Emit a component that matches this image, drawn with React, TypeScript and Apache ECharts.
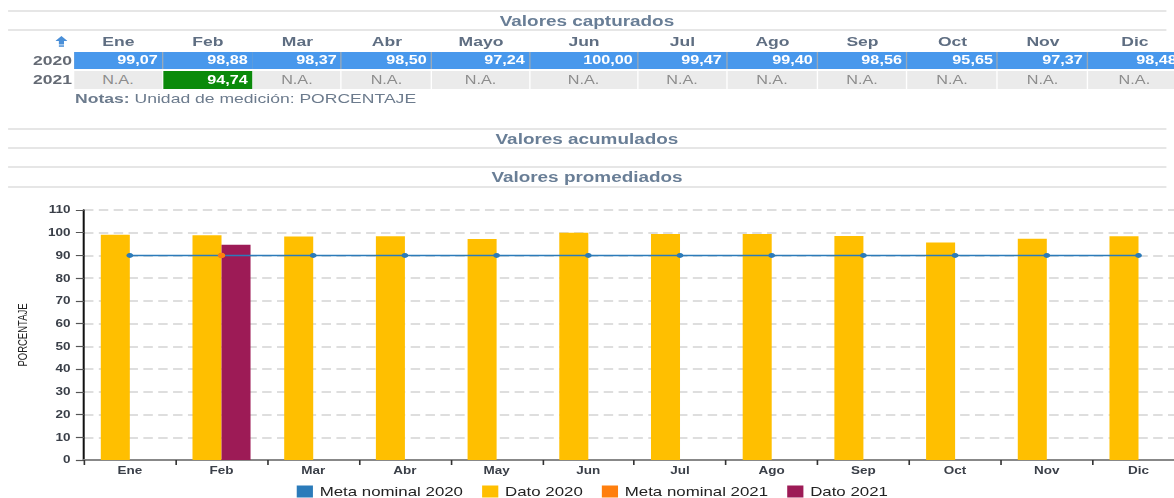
import React, { useEffect, useRef } from "react";
import * as echarts from "echarts";

// ---------- data ----------
const chartMonths = ["Ene", "Feb", "Mar", "Abr", "May", "Jun", "Jul", "Ago", "Sep", "Oct", "Nov", "Dic"];
const tableMonths = ["Ene", "Feb", "Mar", "Abr", "Mayo", "Jun", "Jul", "Ago", "Sep", "Oct", "Nov", "Dic"];
const dato2020 = [99.07, 98.88, 98.37, 98.5, 97.24, 100.0, 99.47, 99.4, 98.56, 95.65, 97.37, 98.48];
const dato2021: (number | null)[] = [null, 94.74, null, null, null, null, null, null, null, null, null, null];
const meta2020 = [90, 90, 90, 90, 90, 90, 90, 90, 90, 90, 90, 90];
const meta2021: (number | null)[] = [null, 90, null, null, null, null, null, null, null, null, null, null];
const yTicks = { min: 0, max: 110, interval: 10 };
const years = ["2020", "2021"];
const seriesNames = ["Meta nominal 2020", "Dato 2020", "Meta nominal 2021", "Dato 2021"];

// ---------- layout (local coordinates, stretched horizontally by S) ----------
const S = 1.35;
const FONT = '"Liberation Sans", Arial, Helvetica, sans-serif';
const colEdges = [54.8, 120.7, 187.4, 253.3, 320, 392.6, 472.6, 538.5, 605.9, 671.9, 739.3, 805.9, 875.5];

const fmt = (v: number) => v.toFixed(2).replace(".", ",");

function TitleBar({ top, height, text }: { top: number; height: number; text: string }) {
  return (
    <div
      style={{
        position: "absolute",
        left: 5.9,
        width: 857.8,
        top,
        height,
        boxSizing: "border-box",
        borderTop: "2px solid #e6e6e6",
        borderBottom: "2px solid #e6e6e6",
        display: "flex",
        alignItems: "center",
        justifyContent: "center",
        fontWeight: "bold",
        fontSize: 14,
        color: "#697e96",
      }}
    >
      {text}
    </div>
  );
}

export default function App() {
  const ref = useRef<HTMLDivElement>(null);

  useEffect(() => {
    const chart = echarts.init(ref.current!, null, { renderer: "svg" });
    chart.setOption({
      animation: false,
      textStyle: { fontFamily: FONT },
      grid: { left: 62.2, right: 12.7, top: 20, bottom: 38, containLabel: false },
      legend: {
        data: seriesNames,
        left: 214.8,
        top: 290,
        icon: "rect",
        itemWidth: 12,
        itemHeight: 12,
        itemGap: 14,
        textStyle: { fontSize: 12.5, color: "#222", fontFamily: FONT },
      },
      graphic: [
        {
          type: "text",
          x: 17,
          y: 145,
          rotation: Math.PI / 2,
          style: {
            text: "PORCENTAJE",
            fontSize: 9.5,
            fill: "#222",
            align: "center",
            verticalAlign: "middle",
            fontFamily: FONT,
          },
        },
      ],
      xAxis: {
        type: "category",
        data: chartMonths,
        axisLine: { lineStyle: { color: "#888", width: 2 } },
        axisTick: { show: true, length: 5, lineStyle: { color: "#333", width: 1.2 } },
        axisLabel: { fontSize: 10, color: "#3a3f48", fontWeight: "bold", margin: 6 },
        splitLine: { show: false },
      },
      yAxis: {
        type: "value",
        min: yTicks.min,
        max: yTicks.max,
        interval: yTicks.interval,
        axisLine: { show: true, lineStyle: { color: "#111", width: 1.5 } },
        axisTick: { show: true, length: 6, lineStyle: { color: "#555", width: 1.2 } },
        axisLabel: { fontSize: 10, color: "#3a3f48", fontWeight: "bold", margin: 10 },
        splitLine: { show: true, lineStyle: { color: "#d3d3d3", type: [7, 4], width: 1.5 } },
      },
      series: [
        {
          name: "Dato 2020",
          type: "bar",
          data: dato2020,
          barWidth: 21.5,
          barGap: "0%",
          itemStyle: { color: "#ffbf00" },
        },
        {
          name: "Dato 2021",
          type: "bar",
          data: dato2021,
          barWidth: 21.5,
          barGap: "0%",
          itemStyle: { color: "#9d1b56" },
        },
        {
          name: "Meta nominal 2020",
          type: "line",
          data: meta2020,
          z: 3,
          symbol: "circle",
          symbolSize: 5,
          itemStyle: { color: "#2b7bba" },
          lineStyle: { color: "#2b7bba", width: 1.5 },
        },
        {
          name: "Meta nominal 2021",
          type: "line",
          data: meta2021,
          z: 4,
          symbol: "circle",
          symbolSize: 5.5,
          showAllSymbol: true,
          itemStyle: { color: "#ff7f0e" },
          lineStyle: { color: "#ff7f0e", width: 1.5 },
        },
      ],
    });
    return () => chart.dispose();
  }, []);

  return (
    <div style={{ position: "absolute", left: 0, top: 0, width: 1174, height: 498, overflow: "hidden", background: "#fff" }}>
      <div
        style={{
          position: "absolute",
          left: 0,
          top: 0,
          width: 890,
          height: 498,
          transform: `scaleX(${S})`,
          transformOrigin: "0 0",
          fontFamily: FONT,
        }}
      >
        <TitleBar top={10} height={21} text="Valores capturados" />

        {/* sort icon */}
        <svg style={{ position: "absolute", left: 41, top: 36 }} width={9} height={11} viewBox="0 0 9 11">
          <polygon points="4.5,0 9,5 6.4,5 6.4,8.5 2.6,8.5 2.6,5 0,5" fill="#4a8fd8" />
          <rect x={2.6} y={9.3} width={3.8} height={1.5} fill="#4a8fd8" />
        </svg>

        {/* month headers */}
        {tableMonths.map((m, i) => (
          <div
            key={"h" + m}
            style={{
              position: "absolute",
              left: colEdges[i],
              width: colEdges[i + 1] - colEdges[i],
              top: 33,
              height: 17,
              lineHeight: "17px",
              textAlign: "center",
              fontWeight: "bold",
              fontSize: 13,
              color: "#5f6e82",
            }}
          >
            {m}
          </div>
        ))}

        {/* year labels */}
        {years.map((y, r) => (
          <div
            key={"y" + y}
            style={{
              position: "absolute",
              left: 0,
              width: colEdges[0] - 1.5,
              top: r === 0 ? 52 : 71,
              height: r === 0 ? 17 : 18,
              lineHeight: r === 0 ? "17px" : "18px",
              textAlign: "right",
              fontWeight: "bold",
              fontSize: 13,
              color: "#646a74",
            }}
          >
            {y}
          </div>
        ))}

        {/* 2020 row */}
        <div
          style={{
            position: "absolute",
            left: colEdges[0],
            width: colEdges[12] - colEdges[0],
            top: 52,
            height: 17,
            background: "#98a9bb",
          }}
        />
        {dato2020.map((v, i) => (
          <div
            key={"a" + i}
            style={{
              position: "absolute",
              left: colEdges[i],
              width: colEdges[i + 1] - colEdges[i] - 0.8,
              top: 52,
              height: 17,
              lineHeight: "17px",
              boxSizing: "border-box",
              paddingRight: 3,
              textAlign: "right",
              background: "#4898ec",
              color: "#fff",
              fontWeight: "bold",
              fontSize: 12,
            }}
          >
            {fmt(v)}
          </div>
        ))}

        {/* 2021 row */}
        {dato2021.map((v, i) => (
          <div
            key={"b" + i}
            style={{
              position: "absolute",
              left: colEdges[i],
              width: colEdges[i + 1] - colEdges[i] - 0.8,
              top: 71,
              height: 18,
              lineHeight: "18px",
              boxSizing: "border-box",
              paddingRight: v == null ? 0 : 3,
              textAlign: v == null ? "center" : "right",
              background: v == null ? "#ebebeb" : "#0b8a0b",
              color: v == null ? "#8c8c8c" : "#fff",
              fontWeight: v == null ? "normal" : "bold",
              fontSize: 12,
            }}
          >
            {v == null ? "N.A." : fmt(v)}
          </div>
        ))}

        {/* notes */}
        <div
          style={{
            position: "absolute",
            left: 55.6,
            top: 91,
            height: 16,
            lineHeight: "16px",
            fontSize: 13,
            color: "#6c7b8d",
            whiteSpace: "nowrap",
          }}
        >
          <b>Notas:</b> Unidad de medición: PORCENTAJE
        </div>

        <TitleBar top={128} height={21} text="Valores acumulados" />
        <TitleBar top={166} height={22} text="Valores promediados" />

        <div ref={ref} style={{ position: "absolute", left: 0, top: 190, width: 890, height: 308 }} />
      </div>
    </div>
  );
}
